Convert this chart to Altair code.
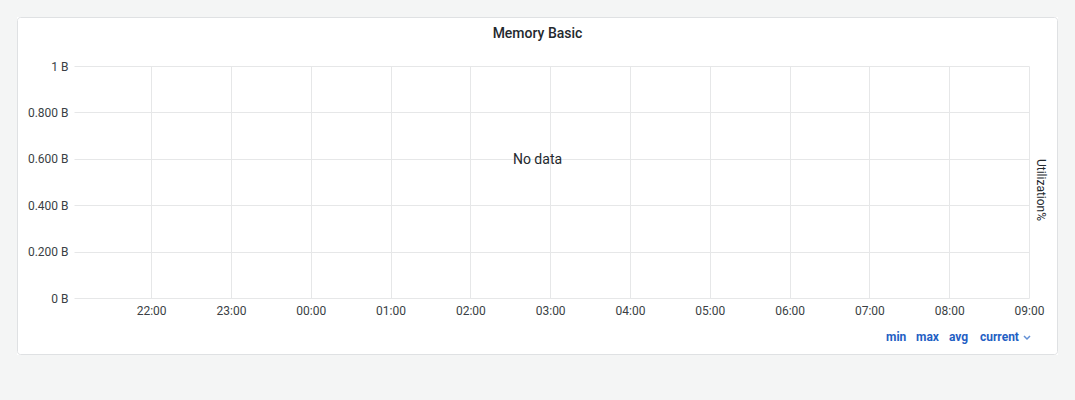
import altair as alt
import pandas as pd

# ---- data / text ----
title_text = "Memory Basic"
empty_text = "No data"
right_title = "Utilization%"
y_ticks = [0, 0.2, 0.4, 0.6, 0.8, 1.0]
x_start = "2024-01-01T21:02:00"
x_end = "2024-01-02T09:00:00"
x_tick_times = ["2024-01-01T22:00:00", "2024-01-01T23:00:00", "2024-01-02T00:00:00",
                "2024-01-02T01:00:00", "2024-01-02T02:00:00", "2024-01-02T03:00:00",
                "2024-01-02T04:00:00", "2024-01-02T05:00:00", "2024-01-02T06:00:00",
                "2024-01-02T07:00:00", "2024-01-02T08:00:00", "2024-01-02T09:00:00"]
legend_items = ["min", "max", "avg", "current"]


def ms(s):
    return int(pd.Timestamp(s, tz="UTC").value // 10**6)


x_dom = [ms(x_start), ms(x_end)]
x_vals = [ms(s) for s in x_tick_times]

FONT = "Roboto"
TEXT = "#24292e"
LABEL = "#3a3f45"
GRID = "#e6e7e8"
BLUE = "#1f60c4"
BG = "#f4f5f5"

base_df = pd.DataFrame({"t": x_dom, "v": [y_ticks[0], y_ticks[-1]]})
one = pd.DataFrame({"k": [0]})

# grey page area around the white panel (frame of four rects)
frame_boxes = [
    (-74, 1001, -66, -49),   # top
    (-74, 1001, 289, 334),   # bottom
    (-74, -57, -66, 334),    # left
    (984, 1001, -66, 334),   # right
]
frame_layers = [
    alt.Chart(one).mark_rect(fill=BG, strokeWidth=0).encode(
        x=alt.value(a), x2=alt.value(b), y=alt.value(c), y2=alt.value(d))
    for a, b, c, d in frame_boxes
]

panel_border = alt.Chart(one).mark_rect(
    fill=None, fillOpacity=0, stroke="#dfe1e3", strokeWidth=1, cornerRadius=3
).encode(
    x=alt.value(-56.5), x2=alt.value(983.5), y=alt.value(-48.5), y2=alt.value(288.5)
)

axes = alt.Chart(base_df).mark_point(opacity=0).encode(
    x=alt.X("t:T", scale=alt.Scale(type="utc", domain=x_dom, nice=False),
            axis=alt.Axis(values=x_vals, labelExpr="utcFormat(datum.value, '%H:%M')",
                          title=None, domain=False, ticks=False, grid=True,
                          gridColor=GRID, labelFont=FONT, labelFontSize=12,
                          labelColor=LABEL, labelPadding=7,
                          labelFlush=False, labelOverlap=False)),
    y=alt.Y("v:Q", scale=alt.Scale(domain=[y_ticks[0], y_ticks[-1]], nice=False),
            axis=alt.Axis(values=y_ticks,
                          labelExpr="(datum.value == 0 || datum.value == 1) ? format(datum.value, 'd') + ' B' : format(datum.value, '.3f') + ' B'",
                          title=None, domain=False, ticks=False, grid=True,
                          gridColor=GRID, labelFont=FONT, labelFontSize=12,
                          labelColor=LABEL, labelPadding=6,
                          labelFlush=False, labelOverlap=False)),
)

title = alt.Chart(one).mark_text(
    text=title_text, font=FONT, fontSize=14, fontWeight=500, color=TEXT,
    align="center", baseline="middle"
).encode(x=alt.value(463.5), y=alt.value(-32.5))

nodata = alt.Chart(one).mark_text(
    text=empty_text, font=FONT, fontSize=14, color=TEXT,
    align="center", baseline="middle"
).encode(x=alt.value(463.5), y=alt.value(94))

rtitle = alt.Chart(one).mark_text(
    text=right_title, font=FONT, fontSize=12, color=TEXT, angle=90,
    align="center", baseline="middle"
).encode(x=alt.value(967), y=alt.value(124))

legend_x = [812, 842, 875, 906]
legend_layers = []
for lbl, lx in zip(legend_items, legend_x):
    legend_layers.append(
        alt.Chart(one).mark_text(
            text=lbl, font=FONT, fontSize=12, fontWeight="bold", color=BLUE,
            align="left", baseline="middle"
        ).encode(x=alt.value(lx), y=alt.value(270.5))
    )

chevron = alt.Chart(one).mark_point(
    shape="M-1,-0.5L0,0.5L1,-0.5", filled=False, stroke=BLUE, strokeWidth=1.5, size=36
).encode(x=alt.value(953), y=alt.value(271.5))

chart = alt.layer(axes, *frame_layers, panel_border, title, nodata, rtitle,
                  *legend_layers, chevron).properties(
    width=955, height=232,
    autosize=alt.AutoSizeParams(type="none"),
    padding={"left": 74, "top": 66, "right": 46, "bottom": 102},
    background="white",
).configure_view(stroke=None)

chart.save("out.html", embed_options={"renderer": "svg", "actions": False})
